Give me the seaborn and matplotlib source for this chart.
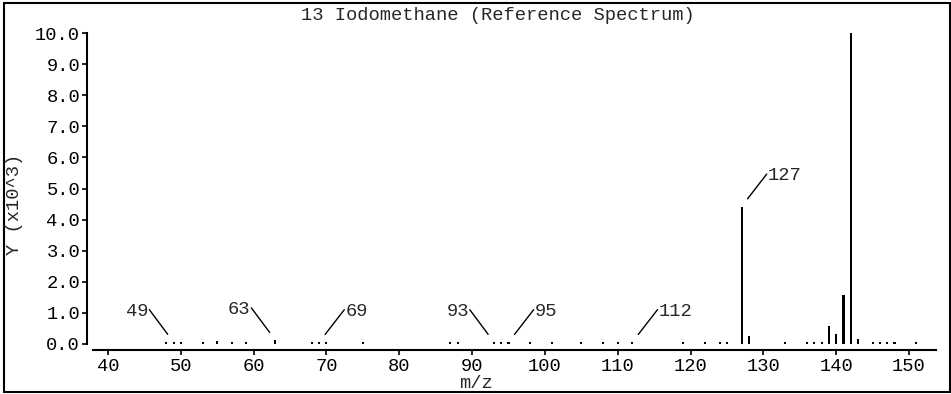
import matplotlib
matplotlib.use("Agg")
import matplotlib.pyplot as plt
import seaborn as sns
from matplotlib.patches import Rectangle

# m/z and intensity (x10^3)
mz = [48, 49, 50, 53, 55, 57, 59, 63, 68, 69, 70, 75, 87, 88, 93, 94, 95,
      98, 101, 105, 108, 110, 112, 119, 122, 124, 125, 127, 128, 133, 136,
      137, 138, 139, 140, 141, 142, 143, 145, 146, 147, 148, 151]
intensity = [0.06, 0.06, 0.06, 0.06, 0.09, 0.06, 0.06, 0.12, 0.06, 0.06, 0.06,
             0.06, 0.06, 0.06, 0.06, 0.06, 0.06, 0.06, 0.06, 0.06, 0.06, 0.06,
             0.06, 0.06, 0.06, 0.06, 0.06, 4.42, 0.27, 0.06, 0.06, 0.06, 0.06,
             0.57, 0.33, 1.56, 10.0, 0.15, 0.06, 0.06, 0.06, 0.06, 0.06]

labeled = [49, 63, 69, 93, 95, 112, 127]
label_side = ["left", "left", "right", "left", "right", "right", "right"]

y_ticks = [0, 1, 2, 3, 4, 5, 6, 7, 8, 9, 10]
x_ticks = [40, 50, 60, 70, 80, 90, 100, 110, 120, 130, 140, 150]

title = "13 Iodomethane (Reference Spectrum)"

sns.set_style("ticks")
plt.rcParams["font.family"] = ["Liberation Mono", "DejaVu Sans Mono"]
plt.rcParams["font.size"] = 13.5

W, H = 951, 394
fig = plt.figure(figsize=(W / 100, H / 100), dpi=100)
ax = fig.add_axes([86.5 / W, (H - 344) / H, (936 - 86.5) / W, (344 - 33) / H])

sns.histplot(x=mz, weights=intensity, discrete=True, shrink=0.28,
             color="black", alpha=1, linewidth=0, ax=ax)

ax.set_xlim(37.05, 153.7)
ax.set_ylim(0, 10)
ax.set_xlabel("")
ax.set_ylabel("")

ax.spines["top"].set_visible(False)
ax.spines["right"].set_visible(False)
ax.spines["left"].set_bounds(0, 10)
ax.spines["bottom"].set_bounds(37.9, 153.7)
ax.spines["bottom"].set_position(("outward", 4.3))
for s in ["left", "bottom"]:
    ax.spines[s].set_linewidth(1.5)
    ax.spines[s].set_color("black")

ax.set_yticks(y_ticks)
ax.set_yticklabels([f"{v:.1f}" for v in y_ticks])
ax.set_xticks(x_ticks)
ax.set_xticklabels([str(v) for v in x_ticks])
ax.tick_params(axis="y", length=3.6, width=1.2, pad=1, colors="black")
ax.tick_params(axis="x", length=3.6, width=1.2, pad=2, colors="black")

lookup = dict(zip(mz, intensity))
for m, side in zip(labeled, label_side):
    dx = -25 if side == "left" else 26
    ha = "right" if side == "left" else "left"
    rel = (1, 0.65) if side == "left" else (0, 0.65)
    ax.annotate(str(m), xy=(m, lookup[m]), xytext=(dx, 31),
                textcoords="offset pixels", ha=ha, va="center",
                annotation_clip=False,
                arrowprops=dict(arrowstyle="-", color="black", lw=1,
                                shrinkA=1, shrinkB=7, relpos=rel, patchA=None))

fig.text(498 / W, 1 - 16 / H, title, ha="center", va="center")
fig.text(476 / W, (H - 384) / H, "m/z", ha="center", va="center")
fig.text(15 / W, (H - 204) / H, "Y (x10^3)", rotation=90, ha="center", va="center")

fig.add_artist(Rectangle((3.5 / W, 2 / H), (946 / W), (389 / H),
                         transform=fig.transFigure, fill=False,
                         edgecolor="black", linewidth=1.5))

fig.savefig("out.png", dpi=100, facecolor="white")
